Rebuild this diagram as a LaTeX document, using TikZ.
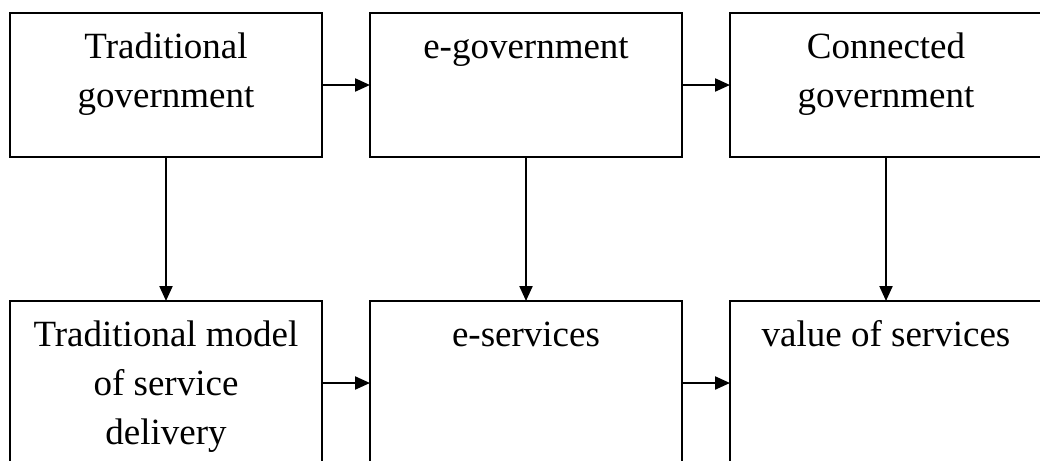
\documentclass[tikz,border=0pt]{standalone}
\usepackage{fontspec}
\setmainfont{Liberation Serif}
\usetikzlibrary{arrows.meta}
\begin{document}
\begin{tikzpicture}[x=1pt,y=-1pt,
  boxnode/.style={draw=black,line width=2.2pt,rectangle,inner sep=0pt,outer sep=0pt,minimum width=312pt,anchor=north west},
  toprow/.style={boxnode,minimum height=144pt},
  botrow/.style={boxnode,minimum height=175pt},
  label/.style={anchor=north,inner sep=0pt,align=center,font=\fontsize{37}{49}\selectfont},
  conn/.style={line width=2.2pt,-{Triangle[length=15pt,width=13pt]}}]
\useasboundingbox (0,0) rectangle (1040,460);
\clip (0,0) rectangle (1040,460);
\fill[white] (0,0) rectangle (1040,460);
% boxes
\node[toprow] (b1) at (10,13) {};
\node[toprow] (b2) at (370,13) {};
\node[toprow] (b3) at (730,13) {};
\node[botrow] (b4) at (10,301) {};
\node[botrow] (b5) at (370,301) {};
\node[botrow] (b6) at (730,301) {};
% texts
\node[label] (t1) at ([yshift=-10.7pt]b1.north) {\strut Traditional\\government};
\node[label] (t2) at ([yshift=-10.7pt]b2.north) {\strut e-government};
\node[label] (t3) at ([yshift=-10.7pt]b3.north) {\strut Connected\\government};
\node[label] (t4) at ([yshift=-10.7pt]b4.north) {\strut Traditional model\\of service\\delivery};
\node[label] (t5) at ([yshift=-10.7pt]b5.north) {\strut e-services};
\node[label] (t6) at ([yshift=-10.7pt]b6.north) {\strut value of services};
% connectors
\draw[conn] (b1.east |- 0,85) -- (b2.west |- 0,85);
\draw[conn] (b2.east |- 0,85) -- (b3.west |- 0,85);
\draw[conn] (b4.east |- 0,383) -- (b5.west |- 0,383);
\draw[conn] (b5.east |- 0,383) -- (b6.west |- 0,383);
\draw[conn] (b1.south) -- (b4.north);
\draw[conn] (b2.south) -- (b5.north);
\draw[conn] (b3.south) -- (b6.north);
\end{tikzpicture}
\end{document}
